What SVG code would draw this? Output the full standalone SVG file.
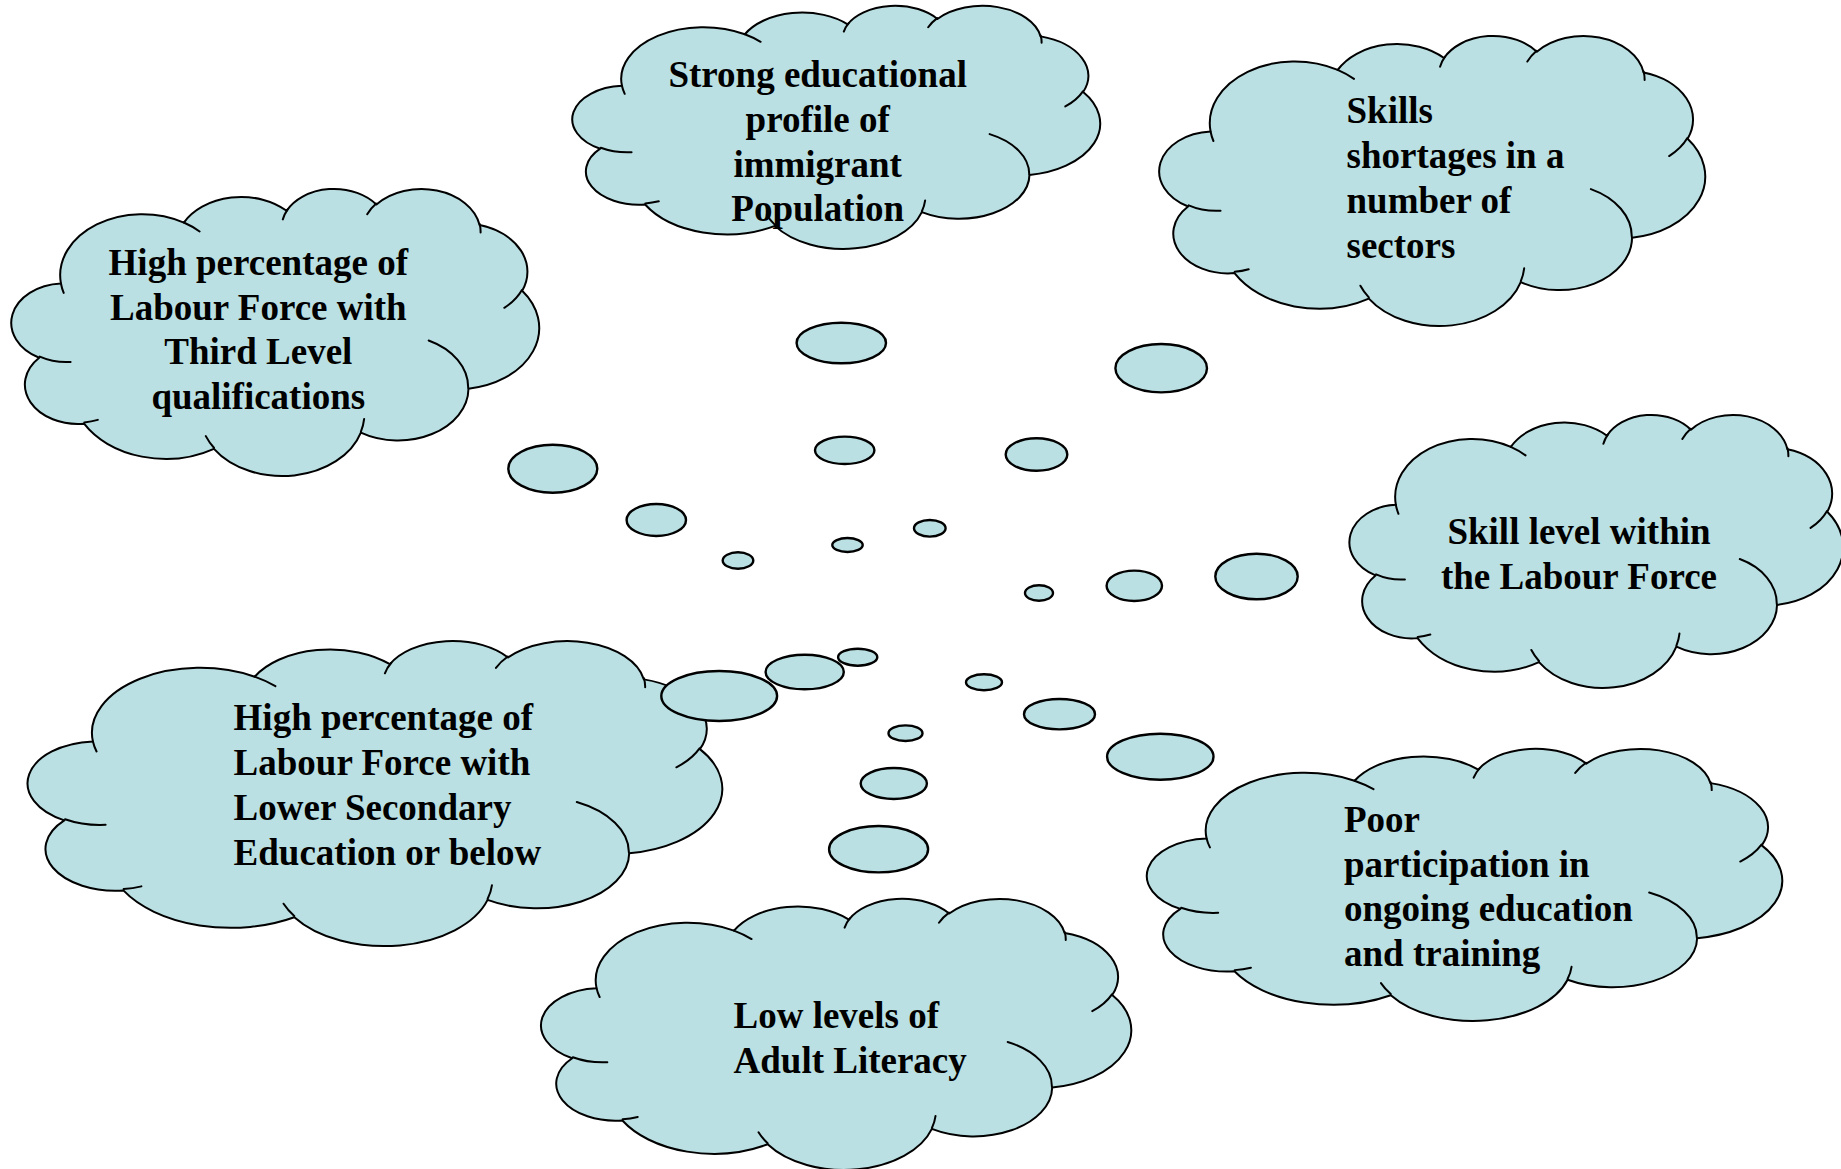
<svg xmlns="http://www.w3.org/2000/svg" xmlns:xlink="http://www.w3.org/1999/xlink" width="1841" height="1169" viewBox="0 0 1841 1169">
<style>
.cl{fill:#BBE0E3;stroke:#000;stroke-width:2;stroke-linejoin:round;vector-effect:non-scaling-stroke}
.ci{fill:none;stroke:#000;stroke-width:2;stroke-linecap:round;vector-effect:non-scaling-stroke}
.bub{fill:#BBE0E3;stroke:#000;stroke-width:2.4}
.t{font-family:"Liberation Serif","Times New Roman",serif;font-weight:bold;font-size:37px;fill:#000}
.m{text-anchor:middle}
</style>
<defs>
<g id="cloud">
<path class="cl" d="M3900,14370 A6753,9190 0 0 1 14005,5202 A5333,7267 0 0 1 22456,3432 A4365,5945 0 0 1 29834,2482 A4857,6595 0 0 1 38319,5577 A5333,7273 0 0 1 41819,15461 A6775,9220 0 0 1 37403,30201 A5785,7867 0 0 1 28555,36811 A6752,9215 0 0 1 16480,39263 A7720,10543 0 0 1 5803,35468 A4360,5918 0 0 1 2112,25547 A4345,5945 0 0 1 3900,14370 Z"/>
<path class="ci" d="M4693,26177 A4345,5945 0 0 1 2159,25380 M6928,34899 A4360,5918 0 0 1 5820,35280 M16478,39090 A6752,9215 0 0 1 15810,37349 M28827,34751 A6752,9215 0 0 1 28560,36660 M34129,22954 A5785,7867 0 0 1 37381,30090 M41798,15354 A5333,7273 0 0 1 40350,18031 M38324,5426 A4857,6595 0 0 1 38400,6690 M29078,3952 A4857,6595 0 0 1 29820,2340 M22141,4720 A4365,5945 0 0 1 22540,3224 M14000,5192 A6753,9190 0 0 1 15299,6540 M4127,15789 A6753,9190 0 0 1 3900,14370"/>
</g>
</defs>

<g id="node-immigrant">
<use xlink:href="#cloud" href="#cloud" transform="translate(574.5,5) scale(0.012164,0.005625)"/>
<text class="t m" x="817.7" y="87.3">Strong educational</text>
<text class="t m" x="817.7" y="132">profile of</text>
<text class="t m" x="817.7" y="176.7">immigrant</text>
<text class="t m" x="817.7" y="221.4">Population</text>
</g>

<g id="node-skills-shortages">
<use xlink:href="#cloud" href="#cloud" transform="translate(1161.5,35) scale(0.012581,0.006713)"/>
<text class="t" x="1346.5" y="123.3">Skills</text>
<text class="t" x="1346.5" y="168.3">shortages in a</text>
<text class="t" x="1346.5" y="213.3">number of</text>
<text class="t" x="1346.5" y="258.3">sectors</text>
</g>

<g id="node-third-level">
<use xlink:href="#cloud" href="#cloud" transform="translate(13.5,188) scale(0.012164,0.006644)"/>
<text class="t m" x="258.3" y="275">High percentage of</text>
<text class="t m" x="258.3" y="319.7">Labour Force with</text>
<text class="t m" x="258.3" y="364.4">Third Level</text>
<text class="t m" x="258.3" y="409.1">qualifications</text>
</g>

<g id="node-skill-level">
<use xlink:href="#cloud" href="#cloud" transform="translate(1351.5,414) scale(0.011377,0.006319)"/>
<text class="t m" x="1579" y="544">Skill level within</text>
<text class="t m" x="1579" y="589">the Labour Force</text>
</g>

<g id="node-lower-secondary">
<use xlink:href="#cloud" href="#cloud" transform="translate(30.5,640) scale(0.016007,0.007060)"/>
<text class="t" x="233.6" y="730">High percentage of</text>
<text class="t" x="233.6" y="775">Labour Force with</text>
<text class="t" x="233.6" y="820">Lower Secondary</text>
<text class="t" x="233.6" y="865">Education or below</text>
</g>

<g id="node-participation">
<use xlink:href="#cloud" href="#cloud" transform="translate(1149.5,748) scale(0.014641,0.006296)"/>
<text class="t" x="1344" y="831.5">Poor</text>
<text class="t" x="1344" y="876.5">participation in</text>
<text class="t" x="1344" y="921">ongoing education</text>
<text class="t" x="1344" y="965.5">and training</text>
</g>

<g id="node-literacy">
<use xlink:href="#cloud" href="#cloud" transform="translate(543.5,898) scale(0.013600,0.006273)"/>
<text class="t" x="733.5" y="1027.7">Low levels of</text>
<text class="t" x="733.5" y="1072.7">Adult Literacy</text>
</g>

<g id="connectors">
<ellipse class="bub" cx="841.3" cy="343" rx="44.7" ry="20.3"/>
<ellipse class="bub" cx="844.7" cy="450.3" rx="29.7" ry="13.7"/>
<ellipse class="bub" cx="847.5" cy="545" rx="15.2" ry="7"/>
<ellipse class="bub" cx="1161.2" cy="368.2" rx="45.8" ry="24.2"/>
<ellipse class="bub" cx="1036.5" cy="454.5" rx="30.8" ry="16.2"/>
<ellipse class="bub" cx="929.8" cy="528.3" rx="15.8" ry="8.3"/>
<ellipse class="bub" cx="552.8" cy="468.7" rx="44.5" ry="24"/>
<ellipse class="bub" cx="656.3" cy="520" rx="29.7" ry="16"/>
<ellipse class="bub" cx="738" cy="560.5" rx="15.3" ry="8.2"/>
<ellipse class="bub" cx="1256.5" cy="576.5" rx="41.2" ry="22.8"/>
<ellipse class="bub" cx="1134.3" cy="585.8" rx="27.7" ry="15.2"/>
<ellipse class="bub" cx="1039" cy="593" rx="14" ry="7.7"/>
<ellipse class="bub" cx="719.2" cy="696" rx="57.9" ry="25"/>
<ellipse class="bub" cx="804.7" cy="672" rx="39.1" ry="17.3"/>
<ellipse class="bub" cx="857.7" cy="657.2" rx="19.6" ry="8.5"/>
<ellipse class="bub" cx="1160.3" cy="756.7" rx="53.2" ry="23"/>
<ellipse class="bub" cx="1059.5" cy="714.2" rx="35.5" ry="15.2"/>
<ellipse class="bub" cx="984" cy="682.3" rx="18" ry="8"/>
<ellipse class="bub" cx="878.6" cy="849.2" rx="49.5" ry="23.2"/>
<ellipse class="bub" cx="893.8" cy="783.5" rx="33.1" ry="15.5"/>
<ellipse class="bub" cx="905.5" cy="733.2" rx="17" ry="7.8"/>
</g>
</svg>
